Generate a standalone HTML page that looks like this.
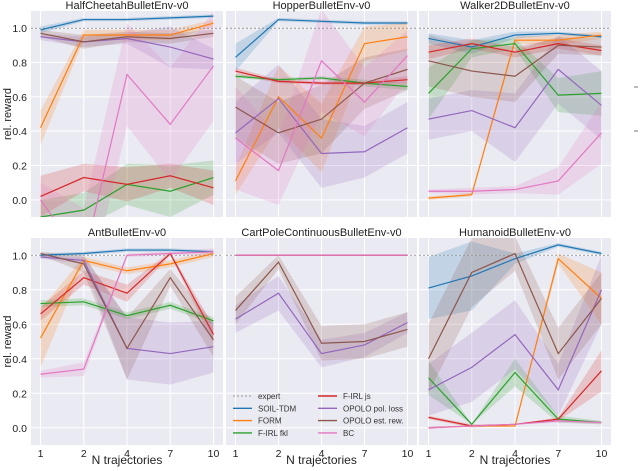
<!DOCTYPE html>
<html><head><meta charset="utf-8"><style>
body{margin:0;background:#fff;}
svg{display:block;font-family:"Liberation Sans",sans-serif;}
</style></head><body>
<svg id="c" width="640" height="471" viewBox="0 0 640 471"></svg>
<script>
const xCategories = ["1","2","4","7","10"];
const yTicks = [0.0,0.2,0.4,0.6,0.8,1.0];
const seriesNames = ["SOIL-TDM","FORM","F-IRL fkl","F-IRL js","OPOLO pol. loss","OPOLO est. rew.","BC"];
const seriesColors = ["#1f77b4","#ff7f0e","#2ca02c","#d62728","#9467bd","#8c564b","#e377c2"];
const panelTitles = ["HalfCheetahBulletEnv-v0","HopperBulletEnv-v0","Walker2DBulletEnv-v0","AntBulletEnv-v0","CartPoleContinuousBulletEnv-v0","HumanoidBulletEnv-v0"];

const halfCheetahMean = [[0.99,1.05,1.05,1.06,1.07],[0.42,0.96,0.96,0.96,1.03],[-0.10,-0.06,0.09,0.05,0.13],[0.02,0.13,0.09,0.14,0.07],[0.95,0.92,0.94,0.89,0.82],[0.97,0.92,0.95,0.94,0.97],[0.0,-0.35,0.73,0.44,0.78]];
const halfCheetahBand = [[0.02,0.01,0.01,0.01,0.01],[0.1,0.03,0.03,0.03,0.02],[0.1,0.1,0.12,0.15,0.1],[0.12,0.08,0.1,0.07,0.1],[0.02,0.03,0.03,0.12,0.06],[0.02,0.04,0.03,0.03,0.02],[0.1,0.3,0.3,0.33,0.32]];
const hopperMean = [[0.83,1.05,1.04,1.03,1.03],[0.11,0.60,0.36,0.91,0.95],[0.72,0.70,0.71,0.68,0.66],[0.75,0.69,0.68,0.68,0.70],[0.39,0.59,0.27,0.28,0.42],[0.54,0.39,0.47,0.68,0.76],[0.36,0.17,0.81,0.57,0.84]];
const hopperBand = [[0.08,0.01,0.01,0.01,0.01],[0.08,0.18,0.2,0.1,0.08],[0.01,0.01,0.01,0.02,0.02],[0.02,0.01,0.01,0.01,0.02],[0.18,0.2,0.2,0.15,0.15],[0.18,0.18,0.2,0.15,0.12],[0.3,0.2,0.3,0.2,0.15]];
const walkerMean = [[0.94,0.89,0.96,0.97,0.95],[0.01,0.03,0.93,0.93,0.96],[0.62,0.88,0.91,0.61,0.62],[0.86,0.91,0.86,0.91,0.87],[0.47,0.52,0.42,0.76,0.55],[0.81,0.75,0.72,0.90,0.89],[0.05,0.05,0.06,0.11,0.39]];
const walkerBand = [[0.03,0.04,0.02,0.01,0.01],[0.01,0.01,0.02,0.03,0.02],[0.15,0.05,0.03,0.1,0.13],[0.04,0.03,0.03,0.03,0.03],[0.12,0.12,0.2,0.2,0.2],[0.15,0.15,0.15,0.05,0.05],[0.01,0.02,0.02,0.08,0.18]];
const antMean = [[1.00,1.01,1.03,1.03,1.02],[0.52,0.97,0.91,0.95,1.01],[0.72,0.73,0.65,0.71,0.62],[0.66,0.87,0.78,1.01,0.54],[0.99,0.97,0.46,0.43,0.47],[1.01,0.95,0.46,0.87,0.51],[0.31,0.34,1.00,1.01,1.02]];
const antBand = [[0.01,0.01,0.01,0.01,0.01],[0.17,0.02,0.02,0.02,0.02],[0.02,0.02,0.02,0.02,0.02],[0.04,0.04,0.05,0.01,0.05],[0.01,0.02,0.18,0.18,0.15],[0.01,0.05,0.18,0.05,0.1],[0.02,0.04,0.01,0.01,0.02]];
const cartPoleMean = [[1,1,1,1,1],[1,1,1,1,1],[1,1,1,1,1],[1,1,1,1,1],[0.63,0.78,0.43,0.48,0.61],[0.68,0.96,0.49,0.50,0.57],[1,1,1,1,1]];
const cartPoleBand = [[0,0,0,0,0],[0,0,0,0,0],[0,0,0,0,0],[0,0,0,0,0],[0.08,0.1,0.08,0.07,0.06],[0.08,0.04,0.1,0.1,0.1],[0,0,0,0,0]];
const humanoidMean = [[0.81,0.88,0.98,1.06,1.01],[0.0,0.01,0.01,0.98,0.75],[0.29,0.02,0.32,0.05,0.03],[0.06,0.01,0.02,0.05,0.33],[0.22,0.35,0.54,0.22,0.80],[0.40,0.90,1.01,0.43,0.75],[0.0,0.01,0.02,0.04,0.03]];
const humanoidBand = [[0.18,0.2,0.03,0.01,0.01],[0,0,0,0.03,0.15],[0.1,0,0.08,0.02,0.01],[0.01,0.01,0,0.01,0.12],[0.15,0.2,0.2,0.15,0.2],[0.2,0.2,0.1,0.15,0.15],[0.01,0,0,0.01,0.01]];

const panelMeans=[halfCheetahMean,hopperMean,walkerMean,antMean,cartPoleMean,humanoidMean];
const panelBands=[halfCheetahBand,hopperBand,walkerBand,antBand,cartPoleBand,humanoidBand];

const NS="http://www.w3.org/2000/svg";
const svg=document.getElementById("c");
function mk(tag,attrs,parent){const e=document.createElementNS(NS,tag);for(const k in attrs)e.setAttribute(k,attrs[k]);(parent||svg).appendChild(e);return e;}
const colsX=[[31,223],[226,417],[419,611]];
const rowsY=[[11,217],[238,445]];
const yMin=-0.1,yMax=1.1;

for(let p=0;p<6;p++){
  const col=p%3,row=Math.floor(p/3);
  const [x0,x1]=colsX[col],[y0,y1]=rowsY[row];
  const g=mk("g",{});
  
  
  const cid="clip"+p;
  const cp=mk("clipPath",{id:cid},g);mk("rect",{x:x0,y:y0,width:x1-x0,height:y1-y0},cp);
  mk("rect",{x:x0,y:y0,width:x1-x0,height:y1-y0,fill:"#eaeaf2"},g);
  const xs=i=>x0+9.5+i*((x1-x0-19)/(xCategories.length-1));
  const ys=v=>y0+(yMax-v)/(yMax-yMin)*(y1-y0);
  for(const t of yTicks){mk("line",{x1:x0,x2:x1,y1:ys(t),y2:ys(t),stroke:"#fff","stroke-width":1},g);
    if(col===0){const tx=mk("text",{x:x0-4,y:ys(t)+4,"text-anchor":"end","font-size":10.5,fill:"#222"},g);tx.textContent=t.toFixed(1);
      }}
  xCategories.forEach((c,i)=>{mk("line",{x1:xs(i),x2:xs(i),y1:y0,y2:y1,stroke:"#fff","stroke-width":1},g);
    if(row===1){const tx=mk("text",{x:xs(i),y:y1+12,"text-anchor":"middle","font-size":10.5,fill:"#222"},g);tx.textContent=c;
      }});
  const dg=mk("g",{"clip-path":"url(#"+cid+")"},g);
  const M=panelMeans[p],B=panelBands[p];
  for(let s=0;s<M.length;s++){
    const up=M[s].map((v,i)=>xs(i)+","+ys(v+B[s][i])).join(" ");
    const dn=M[s].map((v,i)=>xs(i)+","+ys(v-B[s][i])).reverse().join(" ");
    const band=mk("polygon",{points:up+" "+dn,fill:seriesColors[s],"fill-opacity":0.2,stroke:"none"},dg);
    
  }
  mk("line",{x1:x0,x2:x1,y1:ys(1),y2:ys(1),stroke:"#888","stroke-width":0.8,"stroke-dasharray":"2,2"},dg);
  for(let s=0;s<M.length;s++){
    const ln=mk("polyline",{points:M[s].map((v,i)=>xs(i)+","+ys(v)).join(" "),fill:"none",stroke:seriesColors[s],"stroke-width":1.2},dg);
    
    
  }
  const tt=mk("text",{x:(x0+x1)/2,y:y0-2,"text-anchor":"middle","font-size":11,fill:"#222"},g);tt.textContent=panelTitles[p];
  
  if(row===1){const xl=mk("text",{x:(x0+x1)/2,y:464,"text-anchor":"middle","font-size":12,fill:"#222"},g);xl.textContent="N trajectories";
    }
  if(col===0){const yl=mk("text",{transform:"translate(11,"+((y0+y1)/2)+") rotate(-90)","text-anchor":"middle","font-size":11,fill:"#222"},g);yl.textContent="rel. reward";
    }
}
// legend
const lg=mk("g",{});


const legItems=[["expert","#999",true]].concat(seriesNames.map((n,i)=>[n,seriesColors[i],false]));
legItems.forEach((it,k)=>{
  const c=k<4?0:1,r=k%4;
  const lx=c===0?233:318,ly=396+r*12.3;
  mk("line",{x1:lx,x2:lx+19,y1:ly,y2:ly,stroke:it[1],"stroke-width":it[2]?1:1.4,"stroke-dasharray":it[2]?"2,2":"none"},lg);
  const t=mk("text",{x:lx+25,y:ly+3,"font-size":8,fill:"#333"},lg);t.textContent=it[0];
  
});
mk("line",{x1:634,x2:638,y1:87,y2:87,stroke:"#555","stroke-width":0.8});
mk("line",{x1:634,x2:638,y1:131,y2:131,stroke:"#555","stroke-width":0.8});
</script>
</body></html>
